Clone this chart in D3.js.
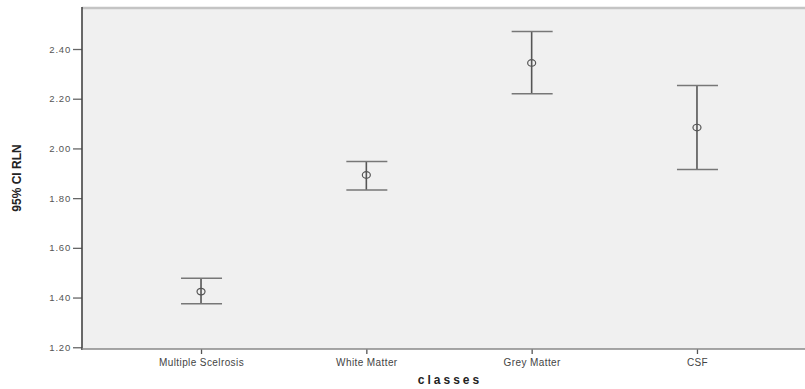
<!DOCTYPE html>
<html>
<head>
<meta charset="utf-8">
<script src="https://cdn.jsdelivr.net/npm/d3@7"></script>
<style>
  body { margin: 0; background: #fff; }
  svg { display: block; }
</style>
</head>
<body>
<div id="chart"></div>
<script>
const classes = ['Multiple Scelrosis', 'White Matter', 'Grey Matter', 'CSF']
const means = [1.424, 1.893, 2.344, 2.084]
const lower = [1.375, 1.833, 2.220, 1.915]
const upper = [1.478, 1.947, 2.470, 2.253]
const yTicks = [1.20, 1.40, 1.60, 1.80, 2.00, 2.20, 2.40]

const w = 805
const h = 389
const mLeft = 82, mRight = 816, mTop = 8, mBottom = 349

const svg = d3.select('#chart')
              .append('svg')
              .attr('width', w)
              .attr('height', h)

const x = d3.scalePoint()
            .domain(classes)
            .range([mLeft, mRight])
            .padding(0.72)

const y = d3.scaleLinear()
            .domain([1.193, 2.565])
            .range([mBottom, mTop])

// plot background
svg.append('rect')
   .attr('x', mLeft)
   .attr('y', mTop)
   .attr('width', mRight - mLeft)
   .attr('height', mBottom - mTop)
   .style('fill', '#f0f0f0')

// top frame line
svg.append('line')
   .attr('x1', mLeft).attr('x2', w)
   .attr('y1', mTop).attr('y2', mTop)
   .style('stroke', '#c4c4c4')
   .style('stroke-width', 2.5)

// y axis
const yAxis = d3.axisLeft(y)
                .tickValues(yTicks)
                .tickFormat(d3.format('.2f'))
                .tickSize(9)
                .tickPadding(2)

const gy = svg.append('g')
   .attr('transform', 'translate(' + mLeft + ',0)')
   .call(yAxis)
gy.select('.domain').remove()
gy.selectAll('.tick line').style('stroke', '#666').style('stroke-width', 1.3)
gy.selectAll('.tick text')
  .style('font-family', 'Arial, "Liberation Sans", sans-serif')
  .style('font-size', '9.5px')
  .style('letter-spacing', '0.8px')
  .style('fill', '#555')

svg.append('line')
   .attr('x1', mLeft).attr('x2', mLeft)
   .attr('y1', mTop - 1).attr('y2', mBottom + 1)
   .style('stroke', '#444')
   .style('stroke-width', 1.6)

// x axis
const xAxis = d3.axisBottom(x)
                .tickSize(5)
                .tickPadding(5)
const gx = svg.append('g')
   .attr('transform', 'translate(0,' + mBottom + ')')
   .call(xAxis)
gx.select('.domain').remove()
gx.selectAll('.tick line').style('stroke', '#555').style('stroke-width', 1.3)
gx.selectAll('.tick text')
  .style('font-family', 'Arial, "Liberation Sans", sans-serif')
  .style('font-size', '10px')
  .style('letter-spacing', '0.4px')
  .style('fill', '#444')

svg.append('line')
   .attr('x1', mLeft).attr('x2', w)
   .attr('y1', mBottom).attr('y2', mBottom)
   .style('stroke', '#888')
   .style('stroke-width', 1.5)

// axis titles
svg.append('text')
   .text('95% CI RLN')
   .attr('transform', 'translate(21,178) rotate(-90)')
   .attr('text-anchor', 'middle')
   .style('font-family', '"Liberation Sans Narrow", "Arial Narrow", sans-serif')
   .style('font-weight', 'bold')
   .style('font-size', '12px')
   .style('fill', '#222')

svg.append('text')
   .text('classes')
   .attr('x', (mLeft + mRight) / 2 + 1)
   .attr('y', 384)
   .attr('text-anchor', 'middle')
   .style('font-family', 'Arial, "Liberation Sans", sans-serif')
   .style('font-weight', 'bold')
   .style('font-size', '12px')
   .style('letter-spacing', '3px')
   .style('fill', '#222')

// error bars
const bars = svg.selectAll('.bar')
   .data(classes)
   .enter()
   .append('g')
   .attr('class', 'bar')

bars.append('line')
    .attr('x1', d => x(d)).attr('x2', d => x(d))
    .attr('y1', (d, i) => y(upper[i]))
    .attr('y2', (d, i) => y(lower[i]))
    .style('stroke', '#555')
    .style('stroke-width', 1.6)

bars.append('line')
    .attr('x1', d => x(d) - 20).attr('x2', d => x(d) + 21)
    .attr('y1', (d, i) => y(upper[i])).attr('y2', (d, i) => y(upper[i]))
    .style('stroke', '#777')
    .style('stroke-width', 1.5)

bars.append('line')
    .attr('x1', d => x(d) - 20).attr('x2', d => x(d) + 21)
    .attr('y1', (d, i) => y(lower[i])).attr('y2', (d, i) => y(lower[i]))
    .style('stroke', '#777')
    .style('stroke-width', 1.5)

bars.append('ellipse')
    .attr('cx', d => x(d))
    .attr('cy', (d, i) => y(means[i]))
    .attr('rx', 4)
    .attr('ry', 3.3)
    .style('fill', 'none')
    .style('stroke', '#555')
    .style('stroke-width', 1.2)
</script>
</body>
</html>
